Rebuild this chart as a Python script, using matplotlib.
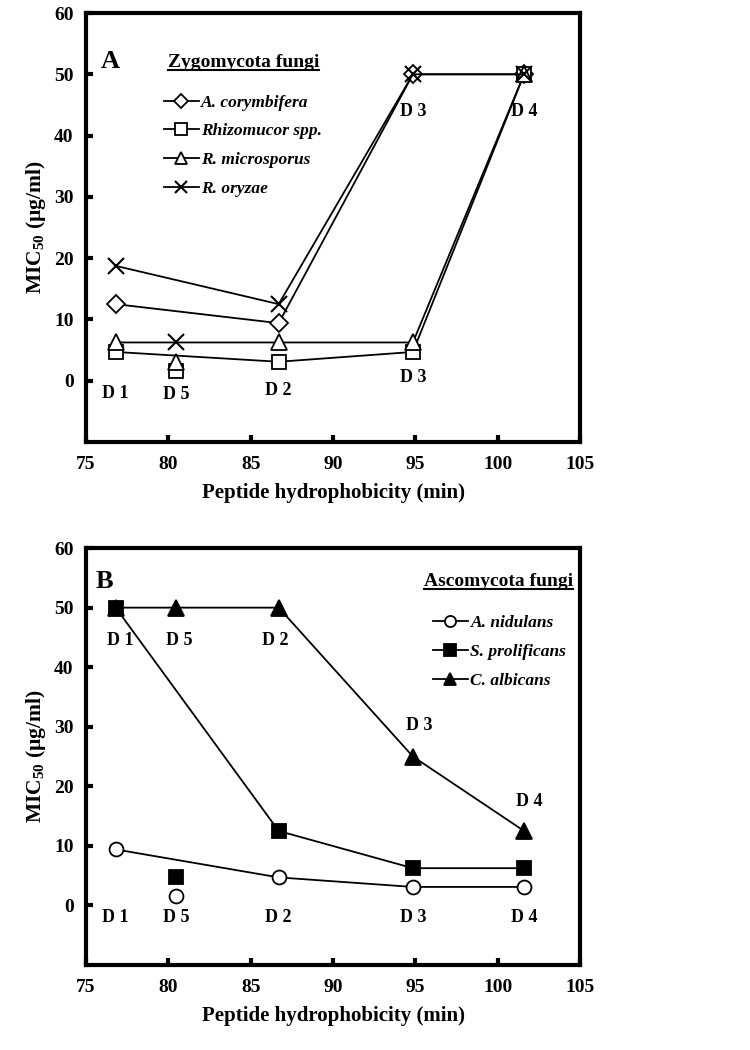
import matplotlib
matplotlib.use("Agg")
import matplotlib.pyplot as plt
from matplotlib.lines import Line2D

plt.rcParams['font.family'] = ['Liberation Serif', 'DejaVu Serif']
plt.rcParams['font.weight'] = 'bold'
plt.rcParams['mathtext.fontset'] = 'custom'
plt.rcParams['mathtext.rm'] = 'Liberation Serif:bold'
plt.rcParams['mathtext.bf'] = 'Liberation Serif:bold'

# peptide retention times (min)
x_d1, x_d5, x_d2, x_d3, x_d4 = 76.8, 80.45, 86.7, 94.85, 101.6
main_x = [x_d1, x_d2, x_d3, x_d4]

# panel A - Zygomycota, MIC50 at D1, D2, D3, D4 (+ lone D5 point)
zygo_names = ['A. corymbifera', 'Rhizomucor spp.', 'R. microsporus', 'R. oryzae']
zygo_markers = ['D', 's', '^', 'x']
zygo_main = [
    [12.5, 9.4, 50, 50],
    [4.7, 3.1, 4.7, 50],
    [6.25, 6.25, 6.25, 50],
    [18.75, 12.5, 50, 50],
]
zygo_d5 = [None, 1.6, 3.1, 6.25]

# label positions panel A
zygo_lbl_x = [x_d1, x_d5, x_d2, x_d3, x_d3, x_d4]
zygo_lbl_y = [-2.0, -2.3, -1.6, 0.5, 44.0, 44.0]
zygo_lbl_t = ['D 1', 'D 5', 'D 2', 'D 3', 'D 3', 'D 4']

# panel B - Ascomycota
asco_names = ['A. nidulans', 'S. prolificans', 'C. albicans']
asco_markers = ['o', 's', '^']
asco_x = [
    [x_d1, x_d2, x_d3, x_d4],
    [x_d1, x_d2, x_d3, x_d4],
    [x_d1, x_d5, x_d2, x_d3, x_d4],
]
asco_y = [
    [9.4, 4.7, 3.1, 3.1],
    [50, 12.5, 6.25, 6.25],
    [50, 50, 50, 25, 12.5],
]
asco_d5 = [1.6, 4.7, None]

asco_lbl_x = [x_d1, x_d5, x_d2, x_d3, x_d4, x_d1 + 0.25, x_d5 + 0.2, x_d2 - 0.2, x_d3 + 0.4, x_d4 + 0.3]
asco_lbl_y = [-2.0, -2.0, -2.0, -2.0, -2.0, 44.5, 44.5, 44.5, 30.2, 17.5]
asco_lbl_t = ['D 1', 'D 5', 'D 2', 'D 3', 'D 4', 'D 1', 'D 5', 'D 2', 'D 3', 'D 4']

fig = plt.figure(figsize=(7.5, 10.5), dpi=100)
axA = fig.add_axes([0.1147, 0.579, 0.6587, 0.4086])
axB = fig.add_axes([0.1147, 0.081, 0.6587, 0.397])


def style_axes(ax):
    ax.set_xlim(75, 105)
    ax.set_ylim(-10, 60)
    ax.set_xticks([75, 80, 85, 90, 95, 100, 105])
    ax.set_yticks([0, 10, 20, 30, 40, 50, 60])
    ax.tick_params(direction='in', length=5, width=3, labelsize=14)
    ax.tick_params(axis='x', pad=10)
    ax.tick_params(axis='y', pad=9)
    for s in ax.spines.values():
        s.set_linewidth(3)
    for lab in ax.get_xticklabels() + ax.get_yticklabels():
        lab.set_fontweight('bold')
    ax.set_xlabel('Peptide hydrophobicity (min)', fontsize=15, fontweight='bold', labelpad=7)
    ax.set_ylabel('MIC$_{50}$ (\u00b5g/ml)', fontsize=15.5, fontweight='bold', labelpad=4)


def mk_kw(m, filled):
    if m == 'x':
        return dict(marker='x', markersize=11, markeredgewidth=1.5, color='black')
    sizes = {'D': 9, 's': 10, '^': 11, 'o': 10}
    return dict(marker=m, markersize=sizes[m], markeredgewidth=1.3,
                markerfacecolor='black' if filled else 'white',
                markeredgecolor='black', color='black')


def underline(txt):
    fig.canvas.draw()
    bb = txt.get_window_extent().transformed(fig.transFigure.inverted())
    fig.add_artist(Line2D([bb.x0, bb.x1], [bb.y0 + 0.001, bb.y0 + 0.001],
                          transform=fig.transFigure, color='black', lw=1.5))


leg_prop = {'family': 'Liberation Serif', 'style': 'italic', 'weight': 'bold', 'size': 12.5}

# ---- panel A
style_axes(axA)
handles = []
for name, m, ys, y5 in zip(zygo_names, zygo_markers, zygo_main, zygo_d5):
    kw = mk_kw(m, False)
    axA.plot(main_x, ys, linewidth=1.3, zorder=3, **kw)
    if y5 is not None:
        axA.plot([x_d5], [y5], linestyle='none', zorder=3, **kw)
    hk = dict(kw)
    hk['markersize'] = kw['markersize'] * 0.8
    handles.append(Line2D([], [], linewidth=1.3, label=name, **hk))
for x, y, t in zip(zygo_lbl_x, zygo_lbl_y, zygo_lbl_t):
    axA.text(x, y, t, ha='center', va='center', fontsize=13, fontweight='bold')
axA.text(0.05, 0.887, 'A', transform=axA.transAxes, fontsize=19, fontweight='bold',
         ha='center', va='center')
tA = axA.text(0.165, 0.885, 'Zygomycota fungi', transform=axA.transAxes, fontsize=14,
              fontweight='bold', ha='left', va='center')
axA.legend(handles=handles, loc='upper left', bbox_to_anchor=(0.14, 0.83),
           frameon=False, handlelength=2.0, handletextpad=0.15, labelspacing=0.72,
           borderpad=0, prop=leg_prop)

# ---- panel B
style_axes(axB)
handles = []
for name, m, xs, ys, y5 in zip(asco_names, asco_markers, asco_x, asco_y, asco_d5):
    kw = mk_kw(m, m != 'o')
    axB.plot(xs, ys, linewidth=1.3, zorder=3, **kw)
    if y5 is not None:
        axB.plot([x_d5], [y5], linestyle='none', zorder=3, **kw)
    hk = dict(kw)
    hk['markersize'] = kw['markersize'] * 0.8
    handles.append(Line2D([], [], linewidth=1.3, label=name, **hk))
for x, y, t in zip(asco_lbl_x, asco_lbl_y, asco_lbl_t):
    axB.text(x, y, t, ha='center', va='center', fontsize=13, fontweight='bold')
axB.text(0.038, 0.92, 'B', transform=axB.transAxes, fontsize=19, fontweight='bold',
         ha='center', va='center')
tB = axB.text(0.985, 0.92, 'Ascomycota fungi', transform=axB.transAxes, fontsize=14,
              fontweight='bold', ha='right', va='center')
axB.legend(handles=handles, loc='upper left', bbox_to_anchor=(0.685, 0.86),
           frameon=False, handlelength=2.0, handletextpad=0.15, labelspacing=0.72,
           borderpad=0, prop=leg_prop)

underline(tA)
underline(tB)

fig.savefig('out.png', dpi=100)
